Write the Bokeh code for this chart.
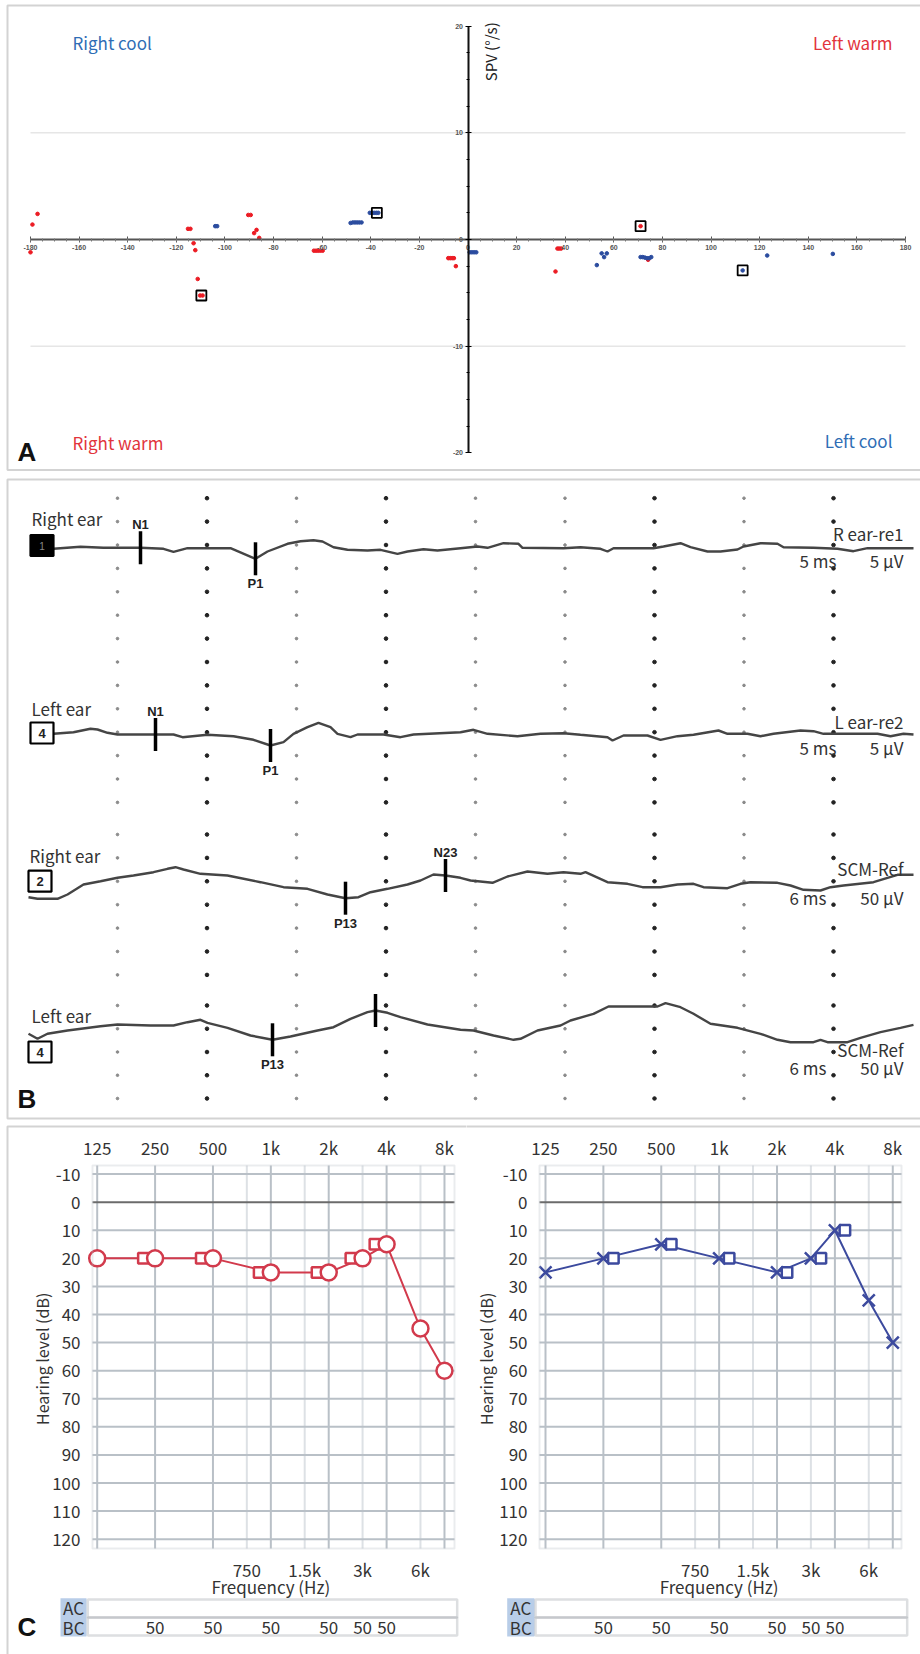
import numpy as np
from bokeh.plotting import figure
from bokeh.models import (Range1d, LinearAxis, LogAxis, LogScale, FixedTicker, BoxAnnotation,
                          Label, CustomJSTickFormatter)
from bokeh.layouts import column, row
from bokeh.embed import file_html
from bokeh.resources import INLINE
from bokeh.core.properties import value

# ======================= DATA =======================
# --- Panel A: slow phase velocity (deg/s) vs head position (deg) ---
A_red_x = [-180.0, -179.2, -177.1, -115.2, -114.2, -112.9, -112.2, -111.2, -110.2, -109.2,
           -90.4, -89.4, -88.0, -87.0, -85.9, -63.4, -62.5, -61.6, -60.7, -59.8,
           -8.1, -7.3, -6.5, -5.8, -5.0, 36.0, 36.8, 37.5, 38.3, 71.0, 74.1]
A_red_y = [-1.2, 1.4, 2.4, 1.0, 1.0, -0.35, -1.0, -3.7, -5.25, -5.25,
           2.3, 2.3, 0.6, 0.9, 0.15, -1.05, -1.05, -1.05, -1.05, -1.05,
           -1.75, -1.75, -1.75, -1.75, -2.5, -3.0, -0.85, -0.85, -0.85, 1.25, -1.9]
A_blue_x = [-104.0, -103.2, -48.3, -47.4, -46.5, -45.6, -44.7, -43.8, -40.4, -39.5, -38.6, -37.7,
            -36.9, 0.7, 1.6, 2.5, 3.4, 53.0, 55.0, 56.0, 57.1, 71.0, 71.9, 72.8, 73.7, 74.6, 75.4,
            113.0, 123.1, 150.1]
A_blue_y = [1.25, 1.25, 1.55, 1.6, 1.6, 1.6, 1.6, 1.6, 2.5, 2.5, 2.5, 2.5,
            2.5, -1.2, -1.2, -1.2, -1.2, -2.4, -1.3, -1.65, -1.3, -1.65, -1.65, -1.7, -1.75, -1.75, -1.65,
            -2.9, -1.5, -1.35]
A_box_x = [-109.7, -37.5, 71.0, 113.0]
A_box_y = [-5.25, 2.5, 1.25, -2.9]
A_xticks = list(range(-180, 181, 20))
A_yticks = [-20, -10, 0, 10, 20]

# --- Panel B: VEMP traces (digitised sample position, deflection) ---
T1_X = [53, 80, 103, 140, 163, 173, 187, 230, 255, 267, 287, 300, 313, 322, 333, 347, 367, 380, 397, 407,
        423, 437, 460, 477, 487, 503, 518, 522, 563, 580, 600, 607, 613, 653, 663, 680, 690, 707, 720, 737,
        743, 760, 777, 783, 813, 837, 853, 867, 913]
T1_A = [-0.8, 1.2, 0.2, 0.2, -0.8, -3.8, -0.2, -0.2, -10.8, -3.5, 4.2, 6.8, 7.8, 6.5, 0.8, -1.8, -2.5, -1.8, -5.8, -3.5,
        -1.2, -2.5, -0.2, 1.5, 0.2, 4.8, 4.2, 0.2, -0.2, 0.8, -0.8, -3.5, -0.2, -0.2, 1.5, 4.8, 0.8, -3.5, -3.5, -1.5,
        1.5, 4.8, 4.2, 0.8, 0.2, -0.8, -3.2, -0.2, -0.2]
T2_X = [53, 73, 90, 97, 107, 117, 155, 173, 182, 207, 233, 253, 270, 283, 293, 307, 318, 330, 337, 350,
        357, 383, 400, 413, 460, 473, 487, 517, 540, 563, 580, 607, 612, 623, 647, 660, 677, 693, 718, 727,
        747, 760, 773, 800, 813, 823, 857, 877, 890, 903, 913]
T2_A = [0.2, 1.8, 5.2, 4.5, 1.2, -0.5, -0.5, -0.5, -3.2, -0.8, -2.2, -5.8, -11.5, -8.2, 0.2, 6.8, 11.2, 6.8, 0.2, -3.2,
        -0.5, -0.5, -3.2, -0.5, 1.8, 4.2, 0.2, -2.2, 0.2, 0.8, -0.8, -3.2, -6.5, -1.5, -1.5, -5.8, -2.2, -0.8, 3.5, 0.2,
        0.2, -2.2, 0.2, 3.5, 2.8, 0.2, 0.2, 0.2, -2.2, 0.2, -0.5]
T3_X = [28, 37, 57, 67, 83, 100, 117, 133, 153, 167, 175, 183, 200, 227, 260, 283, 307, 327, 345, 358,
        370, 387, 407, 420, 433, 445, 460, 470, 492, 507, 527, 547, 563, 580, 585, 607, 627, 642, 660, 677,
        693, 703, 727, 740, 750, 777, 790, 803, 820, 830, 843, 873, 887, 897, 913]
T3_A = [-16.7, -18.3, -18.3, -14, -4, -0.7, 2.7, 5, 8.3, 11.7, 13.3, 11, 6.7, 5, -1.7, -6.7, -8.3, -14, -17.7, -16.7,
        -11.7, -8.3, -4, 0, 6, 5, 2.7, 0, -2.3, 4, 9, 6.7, 8.3, 6.7, 8.3, -1.7, -3.3, -6.7, -6.7, -4,
        -3.3, -6.7, -7.7, -3.3, -1.7, -2.3, -5, -9.3, -10, -6.7, -5, -1.7, 2.7, 5.7, 5.7]
T4_X = [28, 37, 47, 67, 100, 117, 150, 173, 187, 200, 207, 227, 250, 272, 290, 317, 333, 350, 367, 375,
        387, 400, 427, 460, 473, 493, 513, 520, 537, 560, 570, 593, 608, 657, 665, 680, 693, 710, 737, 760,
        777, 790, 813, 820, 827, 847, 860, 880, 900, 913]
T4_A = [-8.3, -13.3, -8.3, -5, -0.7, 1, 0, 0, 3.3, 5.7, 2.7, -2.3, -10, -14.3, -11, -5, -1.7, 6.7, 13.3, 15,
        12.7, 8.3, 1, -4.3, -5, -10, -14.3, -13.3, -5, 0, 5, 11.7, 19, 19, 22.3, 18.3, 11.7, 1.7, -2.3, -8.3,
        -14.3, -16.7, -16.7, -14.3, -16.7, -16.7, -12.3, -6.7, -2.3, 0.7]
B_peaks = [[(140, "N1"), (255, "P1")], [(155, "N1"), (270, "P1")],
           [(345, "P13"), (445, "N23")], [(272, "P13"), (375, "")]]
B_side = ["Right ear", "Left ear", "Right ear", "Left ear"]
B_chan = ["1", "4", "2", "4"]
B_deriv = ["R ear-re1", "L ear-re2", "SCM-Ref", "SCM-Ref"]
B_time = ["5 ms", "5 ms", "6 ms", "6 ms"]
B_amp = ["5 \u00b5V", "5 \u00b5V", "50 \u00b5V", "50 \u00b5V"]

# --- Panel C: audiograms ---
AUD_FREQ = [125, 250, 500, 1000, 2000, 3000, 4000, 6000, 8000]
R_AC = [20, 20, 20, 25, 25, 20, 15, 45, 60]      # right ear, air (O)
L_AC = [25, 20, 15, 20, 25, 20, 10, 35, 50]      # left ear, air (X)
BC_FREQ = [250, 500, 1000, 2000, 3000, 4000]
R_BC = [20, 20, 25, 25, 20, 15]                  # right masked bone
L_BC = [20, 15, 20, 25, 20, 10]                  # left masked bone
R_BC_MASK = [50, 50, 50, 50, 50, 50]
L_BC_MASK = [50, 50, 50, 50, 50, 50]
TOP_TICKS = [125, 250, 500, 1000, 2000, 4000, 8000]
MID_TICKS = [750, 1500, 3000, 6000]
DB_TICKS = list(range(-10, 121, 10))

# ======================= STYLE =======================
FONT = "Noto Sans CJK KR"
BOLD = "Liberation Sans"
FRAME = "#6e6e6e"
RED_A, BLUE_A = "#ec1c24", "#2b4c9f"
Q_BLUE, Q_RED = "#2f6db5", "#e2343c"
AUD_RED, AUD_BLUE = "#d23a4c", "#3c4a9e"
GRID = "#b9c0c7"
W = 920

plain_fmt = CustomJSTickFormatter(code="return tick.toString();")
khz_fmt = CustomJSTickFormatter(code="return tick >= 1000 ? (tick/1000) + 'k' : tick.toString();")


def base_fig(**kw):
    p = figure(output_backend="svg", toolbar_location=None, title=None,
               x_axis_type=None, y_axis_type=None, min_border=0, **kw)
    p.outline_line_color = None
    return p


# ======================= PANEL A =======================
A_H = 474
A_X0, A_KX = 467.5, 875.0 / 360.0
A_Y0, A_KY = 239.0, 10.667


def ax(px):
    return (px - A_X0) / A_KX


def ay(py):
    return (A_Y0 - py) / A_KY


pA = base_fig(width=W, height=A_H, x_range=Range1d(ax(0), ax(W)), y_range=Range1d(ay(A_H), ay(0)))
pA.segment(x0=-180, x1=180, y0=[-10, 10], y1=[-10, 10], line_color="#e6e6e6", line_width=1.5)

xa = LinearAxis(fixed_location=0, bounds=(-180, 180), formatter=plain_fmt,
                ticker=FixedTicker(ticks=A_xticks, minor_ticks=list(range(-180, 181, 5))))
ya = LinearAxis(fixed_location=0, bounds=(-20, 20), formatter=plain_fmt,
                ticker=FixedTicker(ticks=A_yticks, minor_ticks=list(np.arange(-20, 20.1, 2.5))))
for a in (xa, ya):
    a.major_label_text_font = BOLD
    a.major_label_text_font_size = "7px"
    a.major_label_text_font_style = "bold"
    a.major_label_text_color = "#555"
    a.major_tick_in = 3
    a.major_tick_out = 3
    a.minor_tick_in = 1
    a.minor_tick_out = 2
    a.axis_line_width = 2
    a.major_label_standoff = 2
xa.axis_line_color = "#555"
xa.major_tick_line_color = "#555"
xa.minor_tick_line_color = "#777"
ya.axis_line_color = "#111"
pA.add_layout(xa, "below")
pA.add_layout(ya, "left")

pA.scatter(A_red_x, A_red_y, size=3.6, color=RED_A)
pA.scatter(A_blue_x, A_blue_y, size=3.6, color=BLUE_A)
pA.scatter(A_box_x, A_box_y, marker="square", size=10, fill_color=None, line_color="black", line_width=1.8)

for txt, px, py, al, col in [("Right cool", 72, 42, "left", Q_BLUE), ("Left warm", 892, 42, "right", Q_RED),
                             ("Right warm", 72, 441.7, "left", Q_RED), ("Left cool", 892, 440, "right", Q_BLUE)]:
    pA.add_layout(Label(x=ax(px), y=ay(py), text=txt, text_align=al, text_baseline="middle",
                        text_font=FONT, text_font_size="17px", text_color=col))
pA.add_layout(Label(x=ax(489.5), y=ay(51.3), text="SPV (\u00b0/s)", angle=np.pi / 2, text_align="center",
                    text_baseline="middle", text_font=FONT, text_font_size="15px", text_color="#222"))
pA.add_layout(Label(x=ax(17), y=ay(451), text="A", text_font=BOLD, text_font_style="bold",
                    text_font_size="26px", text_baseline="middle", text_color="#111"))
pA.add_layout(BoxAnnotation(left=ax(7), right=ax(3000), top=ay(5), bottom=ay(469.5), fill_color=None,
                            line_color=FRAME, line_width=2))

# ======================= PANEL B =======================
B_TOP = A_H
B_H = 648
pB = base_fig(width=W, height=B_H, x_range=Range1d(0, W), y_range=Range1d(B_TOP + B_H, B_TOP))
pB.add_layout(BoxAnnotation(left=7, right=3000, top=479, bottom=1118, fill_color=None,
                            line_color=FRAME, line_width=2))

cols = 27.5 + 89.5 * np.arange(1, 10)
rows = np.concatenate([497.7 + 23.4 * np.arange(14), 834 + 23.4 * np.arange(7), 1005 + 23.25 * np.arange(5)])
dark = np.array([False, True, False, True, False, False, True, False, True])
gx, gy = np.meshgrid(cols, rows)
gd = np.broadcast_to(dark, gx.shape)
pB.scatter(gx[~gd].ravel(), gy[~gd].ravel(), size=2.6, color="#8a8a8a")
pB.scatter(gx[gd].ravel(), gy[gd].ravel(), size=3.6, color="#222222")

baselines = [547.5, 733.5, 880.0, 1025.0]
box_pos = [(41.5, 545), (41.5, 732.5), (39.5, 880.7), (39.5, 1051.5)]
side_pos = [(31, 517.7), (31, 707.7), (29, 855), (31, 1015)]
lab_y = [(533, 560), (720.7, 746.7), (868.3, 897.3), (1049.3, 1067.3)]
time_right = [836, 836, 826, 826]

for i, (tx, ta) in enumerate([(T1_X, T1_A), (T2_X, T2_A), (T3_X, T3_A), (T4_X, T4_A)]):
    ys = baselines[i] - np.array(ta, dtype=float)
    pB.line(tx, ys, line_color="#454545", line_width=2.4)
    bx, by, lx, ly, lt = [], [], [], [], []
    for (px, name) in B_peaks[i]:
        yc = float(np.interp(px, tx, ys))
        bx.append(px)
        by.append(yc)
        if name:
            lx.append(px)
            lt.append(name)
            ly.append(yc - 16.5 - 7 if name.startswith("N") else yc + 16.5 + 8.3)
    pB.segment(x0=bx, x1=bx, y0=[v - 16.5 for v in by], y1=[v + 16.5 for v in by],
               line_color="black", line_width=3.5)
    pB.text(x=lx, y=ly, text=lt, text_align="center", text_baseline="middle", text_font=value(BOLD),
            text_font_style="bold", text_font_size="13px", text_color="#222")
    cx, cy = box_pos[i]
    filled = (i == 0)
    pB.rect(x=[cx], y=[cy], width=23, height=21, fill_color="black" if filled else "white",
            line_color="black", line_width=2.2)
    pB.text(x=[cx], y=[cy], text=[B_chan[i]], text_align="center", text_baseline="middle",
            text_font=value(BOLD), text_font_style="normal" if filled else "bold",
            text_font_size="10px" if filled else "13px", text_color="#888" if filled else "#222")
    sx, sy = side_pos[i]
    pB.add_layout(Label(x=sx, y=sy, text=B_side[i], text_align="left", text_baseline="middle",
                        text_font=FONT, text_font_size="17px", text_color="#333"))
    pB.add_layout(Label(x=903, y=lab_y[i][0], text=B_deriv[i], text_align="right", text_baseline="middle",
                        text_font=FONT, text_font_size="17px", text_color="#333"))
    pB.add_layout(Label(x=time_right[i], y=lab_y[i][1], text=B_time[i], text_align="right",
                        text_baseline="middle", text_font=FONT, text_font_size="17px", text_color="#333"))
    pB.add_layout(Label(x=903, y=lab_y[i][1], text=B_amp[i], text_align="right", text_baseline="middle",
                        text_font=FONT, text_font_size="17px", text_color="#333"))

pB.add_layout(Label(x=17, y=1098, text="B", text_font=BOLD, text_font_style="bold",
                    text_font_size="26px", text_baseline="middle", text_color="#111"))

# ======================= PANEL C =======================
C_TOP = B_TOP + B_H
C_H = 1654 - C_TOP
OCT = 57.88
DB0, DBK = 1201.7, 2.808
FRAME_T, FRAME_B = 1165, 1548


def db(py):
    return (py - DB0) / DBK


def make_aud(f125_px, canvas_l, canvas_w, frame_l, frame_r, ac, bc, bc_dx, ac_marker, color,
             left_edge, box_l, box_r, lab_l, lab_r, mask, ylab_x):
    fmap = lambda px: 125.0 * 2 ** ((px - f125_px) / OCT)
    p = base_fig(width=canvas_w, height=C_H, x_range=Range1d(fmap(canvas_l), fmap(canvas_l + canvas_w)),
                 y_range=Range1d(db(C_TOP + C_H), db(C_TOP)))
    p.x_scale = LogScale()
    fl, fr = fmap(frame_l), fmap(frame_r)
    dt, dbm = db(FRAME_T), db(FRAME_B)

    # grid
    p.segment(x0=MID_TICKS, x1=MID_TICKS, y0=dt, y1=dbm, line_color="#dde1e5", line_width=2)
    p.segment(x0=TOP_TICKS, x1=TOP_TICKS, y0=dt, y1=dbm, line_color=GRID, line_width=2)
    hl = [t for t in DB_TICKS if t != 0]
    p.segment(x0=fl, x1=fr, y0=hl, y1=hl, line_color=GRID, line_width=2)
    p.segment(x0=fl, x1=fr, y0=0, y1=0, line_color="#6b6b6b", line_width=2)
    p.add_layout(BoxAnnotation(left=fl, right=fr, top=dt, bottom=dbm, fill_color=None,
                               line_color=GRID, line_width=2))

    # axes
    top = LogAxis(fixed_location=dt, ticker=FixedTicker(ticks=TOP_TICKS), formatter=khz_fmt)
    bot = LogAxis(fixed_location=dbm, ticker=FixedTicker(ticks=MID_TICKS), formatter=khz_fmt)
    lef = LinearAxis(fixed_location=fl, ticker=FixedTicker(ticks=DB_TICKS), formatter=plain_fmt)
    for a in (top, bot, lef):
        a.axis_line_color = None
        a.major_tick_line_color = None
        a.minor_tick_line_color = None
        a.major_label_text_font = FONT
        a.major_label_text_font_size = "17px"
        a.major_label_text_color = "#333"
    top.major_label_standoff = 0
    bot.major_label_standoff = 2
    lef.major_label_standoff = 6
    p.add_layout(top, "above")
    p.add_layout(bot, "below")
    p.add_layout(lef, "left")

    # data
    bc_x = [f * 2 ** (bc_dx / OCT) for f in BC_FREQ]
    p.line(AUD_FREQ, ac, line_color=color, line_width=2)
    p.scatter(bc_x, bc, marker="square", size=10.5, fill_color="white", line_color=color, line_width=2.5)
    if ac_marker == "circle":
        p.scatter(AUD_FREQ, ac, marker="circle", size=16, fill_color="white", line_color=color, line_width=2.5)
    else:
        p.scatter(AUD_FREQ, ac, marker="x", size=17, line_color=color, line_width=2.5)

    p.add_layout(Label(x=fmap(ylab_x), y=db(1358.3), text="Hearing level (dB)", angle=np.pi / 2,
                       text_align="center", text_baseline="middle", text_font=FONT, text_font_size="16px",
                       text_color="#333"))
    p.add_layout(Label(x=1000, y=db(1585.5), text="Frequency (Hz)", text_align="center",
                       text_baseline="middle", text_font=FONT, text_font_size="17px", text_color="#333"))

    # AC / BC masking table
    p.add_layout(BoxAnnotation(left=fmap(lab_l), right=fmap(lab_r), top=db(1597.7), bottom=db(1636),
                               fill_color="#b8cde8", fill_alpha=1, line_color=None))
    for t_, b_ in [(1599, 1617), (1617, 1635)]:
        p.add_layout(BoxAnnotation(left=fmap(box_l), right=fmap(box_r), top=db(t_), bottom=db(b_),
                                   fill_color=None, line_color="#8f969d", line_width=2.5))
    mid = fmap((lab_l + lab_r) / 2)
    for txt, yy in [("AC", 1606.7), ("BC", 1626.7)]:
        p.add_layout(Label(x=mid, y=db(yy), text=txt, text_align="center", text_baseline="middle",
                           text_font=FONT, text_font_size="17px", text_color="#333"))
    p.text(x=BC_FREQ, y=[db(1626.7)] * len(BC_FREQ), text=[str(v) for v in mask], text_align="center",
           text_baseline="middle", text_font=value(FONT), text_font_size="17px", text_color="#333")

    # panel frame
    p.add_layout(BoxAnnotation(left=fmap(7 if left_edge else -3000), right=fmap(4000),
                               top=db(1126), bottom=db(4000), fill_color=None,
                               line_color=FRAME, line_width=2))
    if left_edge:
        p.add_layout(Label(x=fmap(17), y=db(1626), text="C", text_font=BOLD, text_font_style="bold",
                           text_font_size="26px", text_baseline="middle", text_color="#111"))
    return p


audL = make_aud(96.7, 0, 466, 92, 454, R_AC, R_BC, -11.7, "circle", AUD_RED, True,
                87.3, 456.7, 60, 86, R_BC_MASK, 41.7)
audR = make_aud(545.0, 466, W - 466, 539, 901, L_AC, L_BC, 10.0, "x", AUD_BLUE, False,
                535, 906.7, 506.7, 534, L_BC_MASK, 485)

layout = column(pA, pB, row(audL, audR))
open("out.html", "w").write(file_html(layout, INLINE))
